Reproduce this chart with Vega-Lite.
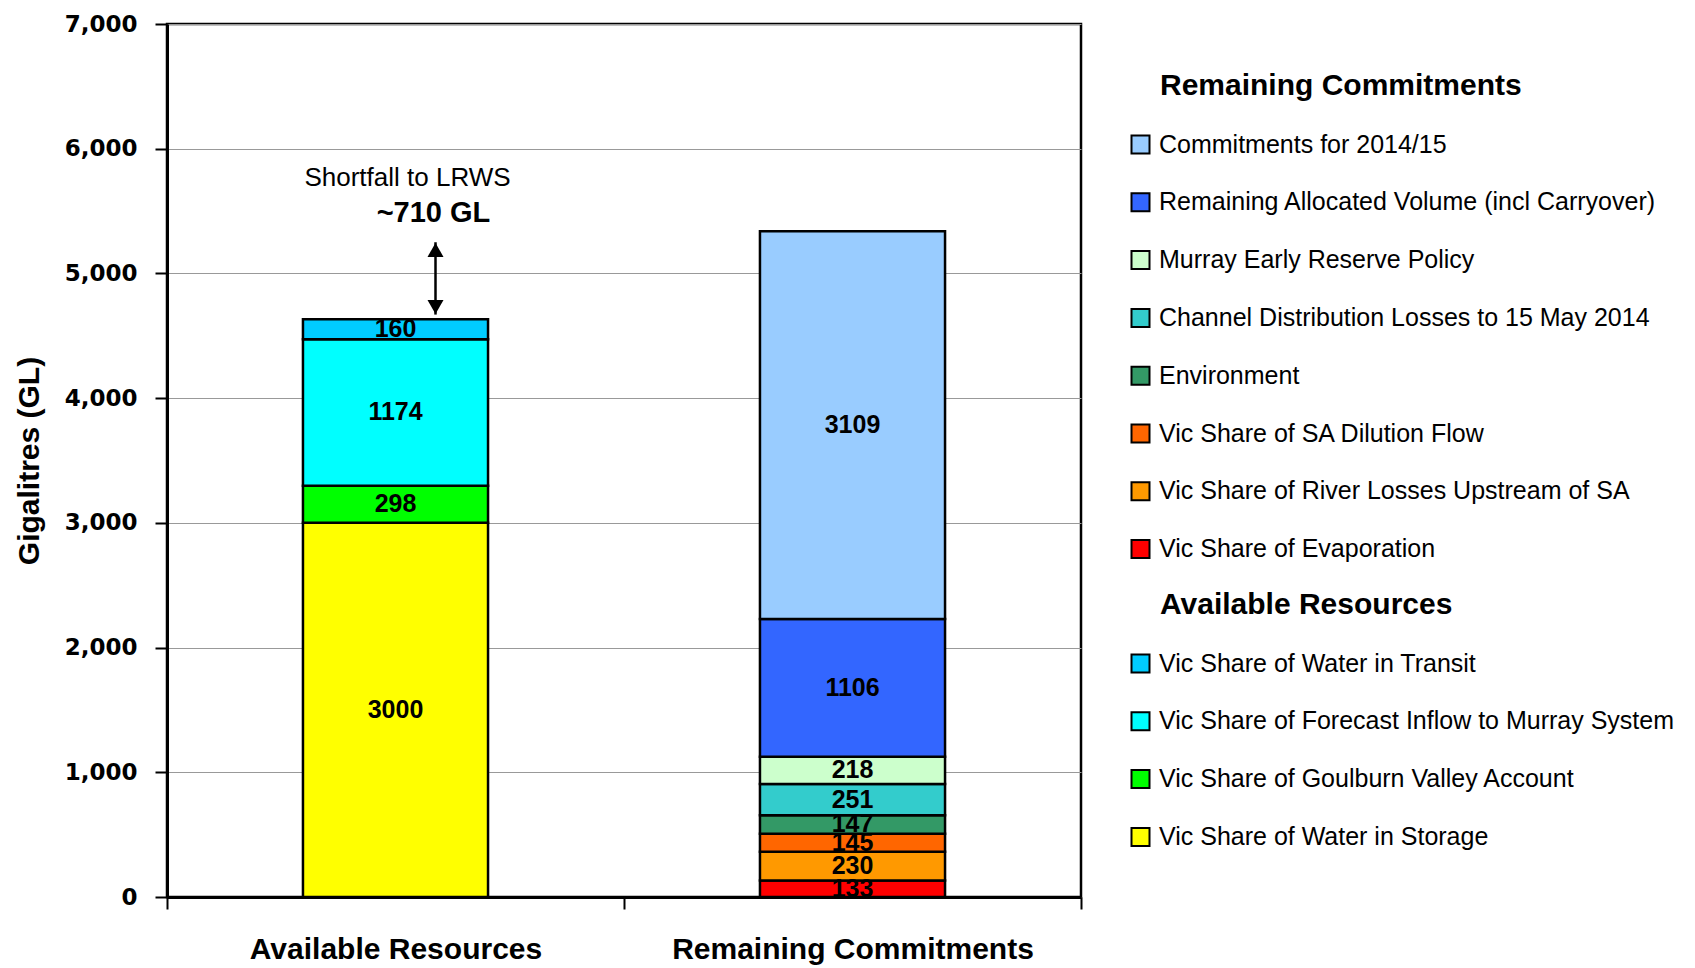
{
  "$schema": "https://vega.github.io/schema/vega-lite/v6.json",
  "width": 914,
  "height": 873,
  "autosize": {"type": "none"},
  "padding": {"left": 167, "top": 24, "right": 614, "bottom": 71},
  "background": "white",
  "config": {
    "view": {"stroke": "black", "strokeWidth": 2.5},
    "font": "Liberation Sans"
  },
  "datasets": {
    "bars": [
      {"group": "Available Resources", "series": "Vic Share of Water in Storage", "value": 3000, "order": 1},
      {"group": "Available Resources", "series": "Vic Share of Goulburn Valley Account", "value": 298, "order": 2},
      {"group": "Available Resources", "series": "Vic Share of Forecast Inflow to Murray System", "value": 1174, "order": 3},
      {"group": "Available Resources", "series": "Vic Share of Water in Transit", "value": 160, "order": 4},
      {"group": "Remaining Commitments", "series": "Vic Share of Evaporation", "value": 133, "order": 1},
      {"group": "Remaining Commitments", "series": "Vic Share of River Losses Upstream of SA", "value": 230, "order": 2},
      {"group": "Remaining Commitments", "series": "Vic Share of SA Dilution Flow", "value": 145, "order": 3},
      {"group": "Remaining Commitments", "series": "Environment", "value": 147, "order": 4},
      {"group": "Remaining Commitments", "series": "Channel Distribution Losses to 15 May 2014", "value": 251, "order": 5},
      {"group": "Remaining Commitments", "series": "Murray Early Reserve Policy", "value": 218, "order": 6},
      {"group": "Remaining Commitments", "series": "Remaining Allocated Volume (incl Carryover)", "value": 1106, "order": 7},
      {"group": "Remaining Commitments", "series": "Commitments for 2014/15", "value": 3109, "order": 8}
    ],
    "note1": [{"group": "Available Resources", "y": 5765, "label": "Shortfall to LRWS"}],
    "note2": [{"group": "Available Resources", "y": 5485, "label": "~710 GL"}],
    "arrow": [{"group": "Available Resources", "y": 5250, "y2": 4670}],
    "heads": [
      {"group": "Available Resources", "y": 5188, "dir": "up"},
      {"group": "Available Resources", "y": 4731, "dir": "down"}
    ]
  },
  "encoding": {
    "x": {
      "field": "group",
      "type": "nominal",
      "scale": {"domain": ["Available Resources", "Remaining Commitments"], "paddingInner": 0, "paddingOuter": 0},
      "axis": {
        "title": null,
        "labelAngle": 0,
        "labelFont": "Liberation Sans",
        "labelFontSize": 30,
        "labelFontWeight": "bold",
        "labelColor": "black",
        "labelPadding": 25,
        "labelLimit": 500,
        "tickBand": "extent",
        "ticks": true,
        "tickSize": 12,
        "tickColor": "black",
        "tickWidth": 2,
        "domainColor": "black",
        "domainWidth": 3,
        "grid": false
      }
    },
    "y": {
      "field": "y",
      "type": "quantitative",
      "scale": {"domain": [0, 7000], "nice": false},
      "axis": {
        "title": "Gigalitres (GL)",
        "titleFont": "Liberation Sans",
        "titleFontSize": 30,
        "titleFontWeight": "bold",
        "titleColor": "black",
        "titlePadding": 20,
        "labelFont": "DejaVu Sans",
        "labelFontSize": 23,
        "labelFontWeight": "bold",
        "labelColor": "black",
        "labelPadding": 18,
        "tickSize": 12,
        "tickColor": "black",
        "tickWidth": 2,
        "domainColor": "black",
        "domainWidth": 3,
        "grid": true,
        "gridColor": "#999999",
        "gridWidth": 1,
        "values": [0, 1000, 2000, 3000, 4000, 5000, 6000, 7000],
        "format": ",d"
      }
    }
  },
  "layer": [
    {
      "data": {"name": "bars"},
      "transform": [
        {"stack": "value", "groupby": ["group"], "sort": [{"field": "order", "order": "ascending"}], "as": ["y0", "y"]},
        {"filter": "datum.group === 'Remaining Commitments'"}
      ],
      "mark": {"type": "bar", "width": {"band": 0.405}, "stroke": "black", "strokeWidth": 2.5},
      "encoding": {
        "y2": {"field": "y0"},
        "color": {
          "field": "series",
          "type": "nominal",
          "scale": {
            "domain": [
              "Commitments for 2014/15",
              "Remaining Allocated Volume (incl Carryover)",
              "Murray Early Reserve Policy",
              "Channel Distribution Losses to 15 May 2014",
              "Environment",
              "Vic Share of SA Dilution Flow",
              "Vic Share of River Losses Upstream of SA",
              "Vic Share of Evaporation"
            ],
            "range": ["#99CCFF", "#3366FF", "#CCFFCC", "#33CCCC", "#339966", "#FF6600", "#FF9900", "#FF0000"]
          },
          "legend": {
            "title": "Remaining Commitments",
            "orient": "none",
            "legendX": 961,
            "legendY": 47,
            "symbolType": "square",
            "symbolSize": 324,
            "symbolStrokeColor": "black",
            "symbolStrokeWidth": 2,
            "symbolOpacity": 1,
            "labelFont": "Liberation Sans",
            "labelFontSize": 25,
            "labelColor": "black",
            "labelLimit": 600,
            "labelOffset": 6,
            "titleFont": "Liberation Sans",
            "titleFontSize": 30,
            "titleFontWeight": "bold",
            "titleColor": "black",
            "titlePadding": 31,
            "titleLimit": 600,
            "rowPadding": 30.8,
            "encode": {"title": {"update": {"dx": {"value": 32}}}}
          }
        }
      }
    },
    {
      "data": {"name": "bars"},
      "transform": [
        {"stack": "value", "groupby": ["group"], "sort": [{"field": "order", "order": "ascending"}], "as": ["y0", "y"]},
        {"filter": "datum.group === 'Available Resources'"}
      ],
      "mark": {"type": "bar", "width": {"band": 0.405}, "stroke": "black", "strokeWidth": 2.5},
      "encoding": {
        "y2": {"field": "y0"},
        "color": {
          "field": "series",
          "type": "nominal",
          "scale": {
            "domain": [
              "Vic Share of Water in Transit",
              "Vic Share of Forecast Inflow to Murray System",
              "Vic Share of Goulburn Valley Account",
              "Vic Share of Water in Storage"
            ],
            "range": ["#00CCFF", "#00FFFF", "#00FF00", "#FFFF00"]
          },
          "legend": {
            "title": "Available Resources",
            "orient": "none",
            "legendX": 961,
            "legendY": 566,
            "symbolType": "square",
            "symbolSize": 324,
            "symbolStrokeColor": "black",
            "symbolStrokeWidth": 2,
            "symbolOpacity": 1,
            "labelFont": "Liberation Sans",
            "labelFontSize": 25,
            "labelColor": "black",
            "labelLimit": 600,
            "labelOffset": 6,
            "titleFont": "Liberation Sans",
            "titleFontSize": 30,
            "titleFontWeight": "bold",
            "titleColor": "black",
            "titlePadding": 31,
            "titleLimit": 600,
            "rowPadding": 30.8,
            "encode": {"title": {"update": {"dx": {"value": 32}}}}
          }
        }
      }
    },
    {
      "data": {"name": "bars"},
      "transform": [
        {"stack": "value", "groupby": ["group"], "sort": [{"field": "order", "order": "ascending"}], "as": ["s0", "s1"]},
        {"calculate": "(datum.s0 + datum.s1) / 2", "as": "y"}
      ],
      "mark": {"type": "text", "font": "Liberation Sans", "fontSize": 25, "fontWeight": "bold", "color": "black", "baseline": "middle", "align": "center"},
      "encoding": {"text": {"field": "value", "type": "quantitative", "format": "d"}}
    },
    {
      "data": {"name": "note1"},
      "mark": {"type": "text", "font": "Liberation Sans", "fontSize": 26, "color": "black", "baseline": "middle", "align": "center", "xOffset": 12},
      "encoding": {"text": {"field": "label"}}
    },
    {
      "data": {"name": "note2"},
      "mark": {"type": "text", "font": "Liberation Sans", "fontSize": 29, "fontWeight": "bold", "color": "black", "baseline": "middle", "align": "center", "xOffset": 38},
      "encoding": {"text": {"field": "label"}}
    },
    {
      "data": {"name": "arrow"},
      "mark": {"type": "rule", "color": "black", "strokeWidth": 2.5, "xOffset": 40},
      "encoding": {"y2": {"field": "y2"}}
    },
    {
      "data": {"name": "heads"},
      "mark": {"type": "point", "filled": true, "color": "black", "opacity": 1, "size": 256, "xOffset": 40},
      "encoding": {
        "shape": {"field": "dir", "type": "nominal", "scale": {"domain": ["up", "down"], "range": ["triangle-up", "triangle-down"]}, "legend": null}
      }
    }
  ],
  "resolve": {"scale": {"color": "independent"}}
}
